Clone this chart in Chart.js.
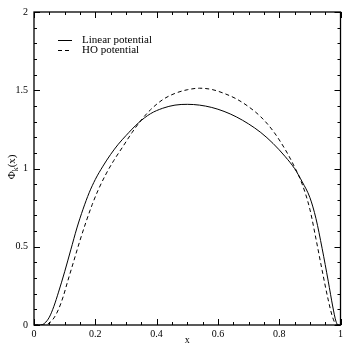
<!DOCTYPE html>
<html>
<head>
<meta charset="utf-8">
<script src="https://cdn.jsdelivr.net/npm/chart.js@4.4.1/dist/chart.umd.min.js"></script>
<style>
html,body{margin:0;padding:0;background:#fff;}
#wrap{width:346px;height:346px;position:relative;}
</style>
</head>
<body>
<div id="wrap"><canvas id="c" width="346" height="346"></canvas></div>
<script>
const seriesNames = ["Linear potential", "HO potential"];
const linearX = [0.0, 0.02, 0.035, 0.05, 0.065, 0.08, 0.1, 0.12, 0.14, 0.16, 0.18, 0.2, 0.225, 0.25, 0.275, 0.3, 0.34, 0.38, 0.42, 0.46, 0.5, 0.54, 0.58, 0.62, 0.66, 0.7, 0.74, 0.78, 0.82, 0.85, 0.875, 0.9, 0.92, 0.94, 0.96, 0.975, 0.985, 0.992, 1.0];
const linearY = [0.0, 0.0, 0.012, 0.05, 0.12, 0.21, 0.34, 0.48, 0.62, 0.74, 0.845, 0.93, 1.015, 1.09, 1.155, 1.21, 1.29, 1.35, 1.385, 1.405, 1.41, 1.405, 1.39, 1.365, 1.33, 1.285, 1.23, 1.16, 1.075, 1.0, 0.915, 0.815, 0.68, 0.49, 0.28, 0.115, 0.025, 0.0, 0.0];
const hoX = [0.0, 0.035, 0.05, 0.065, 0.08, 0.095, 0.11, 0.13, 0.15, 0.17, 0.19, 0.21, 0.235, 0.26, 0.29, 0.32, 0.35, 0.38, 0.42, 0.46, 0.5, 0.54, 0.58, 0.62, 0.66, 0.7, 0.74, 0.78, 0.82, 0.85, 0.875, 0.9, 0.92, 0.94, 0.96, 0.975, 0.988, 1.0];
const hoY = [0.0, 0.0, 0.012, 0.045, 0.1, 0.18, 0.28, 0.41, 0.54, 0.66, 0.77, 0.865, 0.965, 1.05, 1.14, 1.23, 1.31, 1.375, 1.44, 1.48, 1.503, 1.513, 1.505, 1.48, 1.445, 1.395, 1.33, 1.24, 1.12, 1.01, 0.9, 0.74, 0.55, 0.35, 0.16, 0.045, 0.0, 0.0];
const xTickLabels = ["0", "0.2", "0.4", "0.6", "0.8", "1"];
const yTickLabels = ["0", "0.5", "1", "1.5", "2"];

const FONT = "'Liberation Serif', 'DejaVu Serif', serif";

const toPts = (xs, ys) => xs.map((x, i) => ({x: x, y: ys[i]}));

const ticksPlugin = {
  id: 'innerTicks',
  afterDraw(chart) {
    const ctx = chart.ctx;
    const xs = chart.scales.x, ys = chart.scales.y;
    const a = chart.chartArea;
    ctx.save();
    ctx.strokeStyle = '#000';
    ctx.lineWidth = 1;
    ctx.beginPath();
    for (let i = 0; i <= 20; i++) {
      const v = i * 0.05;
      const px = Math.round(xs.getPixelForValue(v)) + 0.5;
      const len = (i % 4 === 0) ? 6 : 3;
      ctx.moveTo(px, a.bottom); ctx.lineTo(px, a.bottom - len);
      ctx.moveTo(px, a.top); ctx.lineTo(px, a.top + len);
    }
    for (let i = 0; i <= 20; i++) {
      const v = i * 0.1;
      const py = Math.round(ys.getPixelForValue(v)) + 0.5;
      const len = (i % 5 === 0) ? 6 : 3;
      ctx.moveTo(a.left, py); ctx.lineTo(a.left + len, py);
      ctx.moveTo(a.right, py); ctx.lineTo(a.right - len, py);
    }
    ctx.stroke();
    ctx.lineWidth = 1.3;
    ctx.strokeRect(a.left, a.top, a.right - a.left, a.bottom - a.top);
    // legend
    ctx.font = "11px " + FONT;
    ctx.fillStyle = '#000';
    ctx.textBaseline = 'middle';
    const lx = Math.round(xs.getPixelForValue(0.078)), ly0 = ys.getPixelForValue(1.818);
    chart.data.datasets.forEach((ds, i) => {
      const ly = Math.round(ly0 + i * 10) + 0.5;
      ctx.beginPath();
      ctx.lineWidth = 1;
      ctx.setLineDash(ds.borderDash || []);
      ctx.moveTo(lx, ly); ctx.lineTo(lx + 14, ly);
      ctx.stroke();
      ctx.setLineDash([]);
      ctx.fillText(ds.label, lx + 24, ly);
    });
    // y title with subscript
    ctx.save();
    ctx.translate(11, ys.getPixelForValue(1.01));
    ctx.rotate(-Math.PI / 2);
    ctx.textBaseline = 'alphabetic';
    ctx.textAlign = 'left';
    ctx.font = "11px " + FONT;
    const w1 = ctx.measureText("Φ").width;
    ctx.font = "8px " + FONT;
    const w2 = ctx.measureText("k").width;
    ctx.font = "11px " + FONT;
    const w3 = ctx.measureText("(x)").width;
    let sx = -(w1 + w2 + w3) / 2;
    ctx.fillText("Φ", sx, 4); sx += w1;
    ctx.font = "8px " + FONT;
    ctx.fillText("k", sx, 7); sx += w2;
    ctx.font = "11px " + FONT;
    ctx.fillText("(x)", sx, 4);
    ctx.restore();
    ctx.restore();
  }
};

new Chart(document.getElementById('c'), {
  type: 'line',
  data: {
    datasets: [
      {label: seriesNames[0], data: toPts(linearX, linearY), borderColor: '#000', borderWidth: 1, pointRadius: 0, fill: false, cubicInterpolationMode: 'monotone'},
      {label: seriesNames[1], data: toPts(hoX, hoY), borderColor: '#000', borderWidth: 1, borderDash: [4, 3], pointRadius: 0, fill: false, cubicInterpolationMode: 'monotone'}
    ]
  },
  options: {
    responsive: false,
    animation: false,
    devicePixelRatio: 1,
    layout: {padding: {left: 0, right: 4, top: 6, bottom: 0}},
    plugins: {legend: {display: false}, tooltip: {enabled: false}},
    scales: {
      x: {
        type: 'linear', min: 0, max: 1,
        grid: {display: false, drawTicks: false},
        border: {display: false},
        ticks: {stepSize: 0.2, padding: 3, color: '#000', font: {family: FONT, size: 10},
          callback: (v) => { const i = Math.round(v / 0.2); return Math.abs(v - i * 0.2) < 1e-6 ? xTickLabels[i] : ''; }, maxRotation: 0},
        title: {display: true, text: 'x', color: '#000', font: {family: FONT, size: 10}, padding: {top: 0, bottom: 0}},
        afterFit: (s) => { s.height = 21; }
      },
      y: {
        type: 'linear', min: 0, max: 2,
        grid: {display: false, drawTicks: false},
        border: {display: false},
        ticks: {stepSize: 0.5, padding: 6, color: '#000', font: {family: FONT, size: 10},
          callback: (v) => { const i = Math.round(v / 0.5); return Math.abs(v - i * 0.5) < 1e-6 ? yTickLabels[i] : ''; }},
        afterFit: (s) => { s.width = 34; }
      }
    }
  },
  plugins: [ticksPlugin]
});
</script>
</body>
</html>
